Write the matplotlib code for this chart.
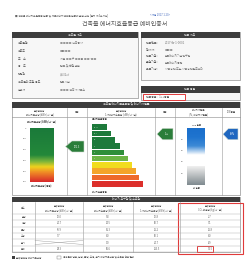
import numpy as np
import matplotlib
matplotlib.use('Agg')
import matplotlib.pyplot as plt
from matplotlib.patches import Rectangle, Polygon
from matplotlib.colors import LinearSegmentedColormap

plt.rcParams['font.family'] = ['Noto Sans CJK KR', 'DejaVu Sans']

W, H = 247, 261

# ---- data ----
header_note = '■ 건축물 에너지효율등급 인증 및 제로에너지건축물 인증에 관한 규칙 [별지 제4호서식]'
header_date = '<개정 2017.1.20>'
title = '건축물 에너지효율등급 예비인증서'

bldg_labels = ['건축물명', '건축주', '주    소', '용    도', '연면적', '건축물의 주된 용도', '설계자']
bldg_values = ['○○○○ 신축공사', '○○○○', '서울 ○○구 ○○동 ○○-○○', '업무 및 근린생활', '4,532㎡', '업무시설', '○○○ 건축사사무소']
cert_labels = ['인증번호', '평가자', '인증기관', '운영기관', '유효기간']
cert_values = ['2017-예-1-0001', '○○○', '한국에너지기술연구원', '한국에너지공단', '사용승인 또는 사용승인일로부터']
grade_text = '인증등급 :  1++등급'

req_ticks = [0, 100, 200, 300, 400, 500]
req_value = 171.3
grades = ['1+++', '1++', '1+', '1', '2', '3', '4', '5', '6', '7']
grade_widths = [0.30, 0.38, 0.46, 0.54, 0.62, 0.70, 0.78, 0.86, 0.93, 1.00]
grade_colors = ['#1d7a3b', '#1d7a3b', '#1d7a3b', '#1d7a3b', '#2f8f3a',
                '#6cb545', '#f1dc1e', '#f4a52a', '#ee6a2b', '#dc2f2b']
grade_index = 1
zeb_ticks = [80, 60, 40, 20]
zeb_value = 89

uses = ['난방', '냉방', '급탕', '조명', '환기', '합계']
col_req = [10.0, 20.7, 55.9, 7.7, None, 94.3]
col_use = [5.8, 14.5, 61.3, 6.0, 9.0, 96.6]
col_primary = [10.8, 40.7, 11.2, 30.1, 20.7, 113.5]
col_co2 = [2.7, 7.1, 11.8, 6.0, 4.9, 32.5]
table_heads = ['용도', '단위면적당\n에너지요구량 (kWh/㎡·년)', '단위면적당\n에너지소요량 (kWh/㎡·년)',
               '단위면적당\n1차 에너지소요량 (kWh/㎡·년)', '단위면적당\nCO₂ 배출량 (kg/㎡·년)']

energy_heads = ['단위면적당\n에너지요구량 (kWh/㎡·년)', '등급', '단위면적당\n1차에너지소요량 (kWh/㎡·년)',
                '등급', '에너지자립률\n(%, 에너지자립률)', 'ZEB등급']

DARK = '#3d3d3d'
TXT = '#5a5a5a'
FS = 2.1

fig = plt.figure(figsize=(W / 100, H / 100), dpi=100)
ax = fig.add_axes([0, 0, 1, 1])
ax.set_xlim(0, W)
ax.set_ylim(H, 0)
ax.axis('off')


def inset(x0, y0, x1, y1):
    a = fig.add_axes([x0 / W, 1 - y1 / H, (x1 - x0) / W, (y1 - y0) / H])
    a.axis('off')
    return a


def box(x0, y0, x1, y1, **kw):
    ax.add_patch(Rectangle((x0, y0), x1 - x0, y1 - y0, **kw))


def arrow(a, xt, xr, yc, hh, color, label):
    pts = [(xt, yc), (xt + (xr - xt) * 0.35, yc - hh), (xr, yc - hh), (xr, yc + hh), (xt + (xr - xt) * 0.35, yc + hh)]
    a.add_patch(Polygon(pts, closed=True, fc=color, ec='#cfd8cf', lw=0.4, clip_on=False))
    a.text(xt + (xr - xt) * 0.6, yc, label, fontsize=1.8, color='white', ha='center', va='center')


# header
ax.text(15, 15, header_note, fontsize=1.9, color='#666', ha='left', va='center')
ax.text(150, 15, header_date, fontsize=1.9, color='#4a6fc0', ha='left', va='center')
ax.text(125, 24, title, fontsize=4.3, color='#555', ha='center', va='center')

# building overview box
box(12, 32, 138, 98, fc='#f7f7f7', ec='#777', lw=0.4)
box(12, 32, 138, 37.5, fc=DARK, ec='none')
ax.text(75, 34.8, '건축물 개요', fontsize=FS, color='#ddd', ha='center', va='center')
for i, (lab, val) in enumerate(zip(bldg_labels, bldg_values)):
    y = 43 + i * 7.8
    ax.text(18, y, lab, fontsize=FS, color=TXT, ha='left', va='center')
    ax.text(60, y, val, fontsize=FS, color='#777', ha='left', va='center')

# certification box
box(141, 32, 240, 80, fc='#f7f7f7', ec='#777', lw=0.4)
box(141, 32, 240, 37.5, fc=DARK, ec='none')
ax.text(190, 34.8, '인증 개요', fontsize=FS, color='#ddd', ha='center', va='center')
for i, (lab, val) in enumerate(zip(cert_labels, cert_values)):
    y = 43 + i * 6.6
    ax.text(146, y, lab + ' :', fontsize=FS, color=TXT, ha='left', va='center')
    ax.text(165, y, val, fontsize=FS, color='#777', ha='left', va='center')
box(141, 86, 240, 100, fc='#f7f7f7', ec='#777', lw=0.4)
box(141, 86, 240, 92.5, fc=DARK, ec='none')
ax.text(190, 89.2, '인증 등급', fontsize=FS, color='#ddd', ha='center', va='center')
box(143, 93.5, 185, 99.5, fc='white', ec='#e03a3a', lw=0.7)
ax.text(146, 96.5, grade_text, fontsize=FS, color=TXT, ha='left', va='center')

# energy section frame
box(12, 102, 240, 195, fc='white', ec='#777', lw=0.4)
box(12, 102, 240, 107.5, fc=DARK, ec='none')
ax.text(126, 104.8, '건축물 에너지효율등급 및 에너지자립률', fontsize=FS, color='#ddd', ha='center', va='center')
ax.plot([12, 240], [117, 117], color='#888', lw=0.4)
col_edges = [12, 67, 87, 155, 175, 222, 240]
for x in col_edges[1:-1]:
    ax.plot([x, x], [107.5, 195], color='#999', lw=0.4)
for i, h in enumerate(energy_heads):
    ax.text((col_edges[i] + col_edges[i + 1]) / 2, 112.3, h, fontsize=1.8, color=TXT,
            ha='center', va='center', linespacing=1.1)

# requirement scale
ra = inset(12, 120, 87, 190)
ra.set_xlim(12, 87)
px2v = 500 / (182 - 128)
ra.set_ylim(500 + (190 - 182) * px2v, -(128 - 120) * px2v)
req_cmap = LinearSegmentedColormap.from_list('req', [(0, '#1b7a3a'), (0.5, '#23883a'), (0.62, '#7cb53c'),
                                                      (0.72, '#f0d21e'), (0.82, '#f08d25'), (1, '#d8282b')])
ra.imshow(np.linspace(0, 1, 200).reshape(-1, 1), cmap=req_cmap, aspect='auto',
          extent=(30, 53, 500, 0), zorder=1)
for t in req_ticks:
    ra.text(25, t, str(t), fontsize=1.7, color=TXT, ha='center', va='center')
ra.text(41.5, -7 * px2v, '에너지요구량 (kWh/㎡·년)', fontsize=1.8, color='#444', ha='center',
        va='center', fontweight='bold')
ra.text(41.5, 500 + 4 * px2v, '에너지요구량 (등급)', fontsize=1.8, color='#444', ha='center',
        va='center', fontweight='bold')
arrow(ra, 65.5, 84, req_value, 5.5 * px2v, '#2b7d3a', f'{req_value}')

# grade staircase
ga = inset(88, 118, 175, 190)
ga.set_xlim(88, 175)
ga.set_ylim(len(grades) - 0.5 + (190 - 187) / 6.3, -0.5 - (124 - 118) / 6.3)
ga.barh(range(len(grades)), [w * 51 for w in grade_widths], left=92, height=0.88,
        color=grade_colors)
for i, g in enumerate(grades[:6]):
    ga.text(94, i, g, fontsize=1.6, color='#cfe5cf', ha='left', va='center')
ga.text(100, -1.3, '에너지효율등급', fontsize=1.8, color='#444', ha='center', va='center', fontweight='bold')
ga.text(100, len(grades) + 0.3, '에너지효율등급', fontsize=1.8, color='#444', ha='center', va='center')
arrow(ga, 157, 173, grade_index + 0.1, 0.9, '#2b7d3a', grades[grade_index])

# ZEB / self-sufficiency scale
za = inset(175, 120, 240, 190)
za.set_xlim(175, 240)
step = 20 / 11.3
za.set_ylim(100 - (190 - 128) * step, 100 + (128 - 120) * step)
blue = LinearSegmentedColormap.from_list('b', ['#1a6fcc', '#1f74cf', '#3d8ad6', '#ffffff'])
za.imshow(np.linspace(0, 1, 100).reshape(-1, 1), cmap=blue, aspect='auto',
          extent=(187, 205, 53, 100), zorder=1)
gray = LinearSegmentedColormap.from_list('g', ['#f0f0f0', '#b9bdbf', '#7f8a8f'])
za.imshow(np.linspace(0, 1, 100).reshape(-1, 1), cmap=gray, aspect='auto',
          extent=(187, 205, -1, 31), zorder=1)
for t in zeb_ticks:
    za.text(182, t, str(t), fontsize=1.7, color=TXT, ha='center', va='center')
za.text(196, 100 + 3 * step, 'ZEB 인증', fontsize=1.7, color='#444', ha='center', va='center')
za.text(196, 100 - 60 * step, '미 인증', fontsize=1.7, color='#444', ha='center', va='center')
arrow(za, 223, 238, zeb_value, 5.5 * step, '#1f67c0', f'{zeb_value}%')

# table
box(12, 197, 240, 252, fc='white', ec='#777', lw=0.4)
box(12, 197, 240, 202, fc=DARK, ec='none')
ax.text(126, 199.5, '에너지 요구량 및 소요량', fontsize=FS, color='#ddd', ha='center', va='center')
t_cols = [12, 35, 83, 133, 180, 240]
for x in t_cols[1:-1]:
    ax.plot([x, x], [202, 252], color='#999', lw=0.4)
row_h = (252 - 214) / len(uses)
for i in range(len(uses) + 1):
    ax.plot([12, 240], [214 + i * row_h] * 2, color='#aaa', lw=0.3)
for j, h in enumerate(table_heads):
    ax.text((t_cols[j] + t_cols[j + 1]) / 2, 208, h, fontsize=1.8, color=TXT, ha='center',
            va='center', linespacing=1.1)
columns = [col_req, col_use, col_primary, col_co2]
for i, u in enumerate(uses):
    yc = 214 + (i + 0.5) * row_h
    ax.text(23.5, yc, u, fontsize=1.8, color=TXT, ha='center', va='center')
    for j, col in enumerate(columns):
        xc = (t_cols[j + 1] + t_cols[j + 2]) / 2
        if col[i] is None:
            ax.plot([t_cols[j + 1], t_cols[j + 2]], [yc - 2, yc + 2], color='#999', lw=0.3)
            ax.plot([t_cols[j + 1], t_cols[j + 2]], [yc + 2, yc - 2], color='#999', lw=0.3)
        else:
            ax.text(xc, yc, f'{col[i]:.1f}', fontsize=1.8, color=TXT, ha='center', va='center')
box(178, 203, 243, 254, fc='none', ec='#e03a3a', lw=0.8)
box(197, 246, 213, 252, fc='none', ec='#e03a3a', lw=0.7)

# legend line
box(12, 255.5, 15, 258.5, fc=DARK, ec='none')
ax.text(16, 257, '단위면적당 에너지요구량', fontsize=1.8, color=TXT, ha='left', va='center')
box(57, 255.5, 61, 258.5, fc='white', ec='#777', lw=0.3)
ax.text(63, 257, '건축물의 냉방, 난방, 급탕, 조명, 환기 에너지요구량 및 소요량 산정 결과', fontsize=1.8,
        color=TXT, ha='left', va='center')

fig.savefig('out.png', dpi=100)
